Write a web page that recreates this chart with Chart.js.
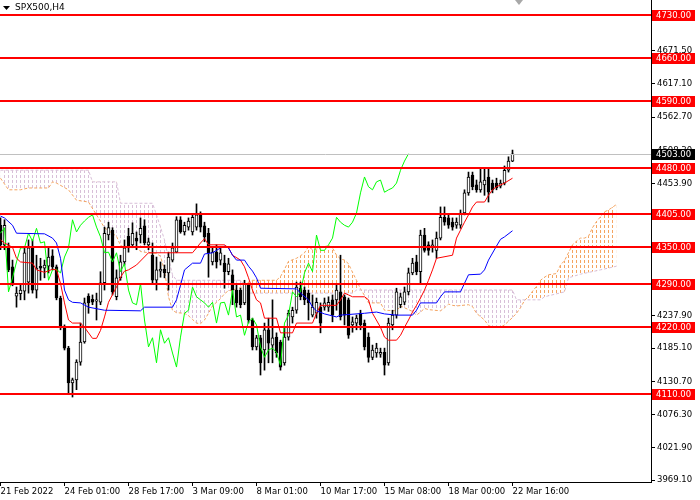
<!DOCTYPE html>
<html>
<head>
<meta charset="utf-8">
<script src="https://cdn.jsdelivr.net/npm/chart.js@4"></script>
<style>
  html, body { margin: 0; padding: 0; background: #fff; }
</style>
</head>
<body>
<canvas id="chart" width="700" height="500"></canvas>
<script>
const symbol = "SPX500,H4";
const xLabels = ["21 Feb 2022", "24 Feb 01:00", "28 Feb 17:00", "3 Mar 09:00", "8 Mar 01:00",
  "10 Mar 17:00", "15 Mar 08:00", "18 Mar 00:00", "22 Mar 16:00"];
const xLabelBars = [0, 16, 32, 48, 64, 80, 96, 112, 128];
const yTicks = [4725.9, 4671.5, 4617.1, 4562.7, 4508.3, 4453.9, 4399.5, 4345.1, 4290.7,
  4237.9, 4185.1, 4130.7, 4076.3, 4021.9, 3969.1];
const levels = [4730, 4660, 4590, 4480, 4405, 4350, 4290, 4220, 4110];
const lastPrice = 4503;

// H4 candles, one per bar
const open = [4386,4354,4349,4318,4270,4274,4278,4293,4350,4280,
  4319,4316,4319,4336,4318,4267,4220,4185,4128,4133,
  4162,4195,4270,4265,4262,4260,4292,4370,4378,4269,
  4300,4326,4368,4354,4365,4370,4385,4354,4337,4296,
  4311,4314,4308,4329,4342,4395,4375,4383,4375,4383,
  4403,4385,4373,4326,4342,4329,4324,4310,4305,4280,
  4280,4259,4288,4231,4187,4202,4182,4215,4190,4203,
  4195,4161,4203,4236,4247,4283,4280,4275,4239,4242,
  4252,4252,4252,4264,4264,4277,4269,4264,4223,4226,
  4242,4226,4203,4170,4177,4175,4178,4161,4223,4239,
  4256,4260,4277,4308,4326,4310,4370,4354,4350,4345,
  4365,4399,4398,4391,4386,4386,4406,4439,4468,4452,
  4444,4452,4465,4455,4455,4450,4455,4476,4491];
const close = [4354,4386,4313,4292,4275,4280,4341,4349,4280,4316,
  4316,4321,4334,4318,4267,4220,4185,4128,4133,4162,
  4195,4259,4259,4260,4264,4292,4373,4382,4277,4300,
  4326,4349,4349,4373,4360,4381,4357,4359,4296,4313,
  4314,4308,4334,4349,4395,4375,4386,4393,4399,4403,
  4383,4367,4341,4342,4326,4341,4310,4323,4280,4259,
  4256,4291,4231,4187,4202,4161,4215,4193,4202,4177,
  4154,4203,4242,4247,4285,4269,4264,4259,4252,4260,
  4226,4259,4260,4239,4280,4236,4239,4206,4228,4234,
  4223,4187,4170,4182,4185,4178,4157,4226,4239,4277,
  4269,4277,4308,4324,4310,4370,4345,4345,4354,4365,
  4399,4391,4386,4383,4391,4406,4439,4465,4449,4444,
  4457,4460,4440,4444,4447,4455,4476,4491,4503];
const high = [4398,4395,4357,4329,4285,4288,4350,4362,4362,4337,
  4332,4329,4349,4346,4321,4270,4223,4188,4136,4166,
  4226,4267,4274,4272,4275,4310,4383,4391,4382,4313,
  4337,4362,4381,4390,4375,4398,4395,4365,4357,4334,
  4326,4321,4342,4357,4400,4400,4391,4398,4405,4421,
  4408,4391,4381,4349,4354,4349,4337,4332,4313,4288,
  4283,4296,4291,4234,4206,4206,4226,4234,4264,4210,
  4198,4219,4247,4252,4293,4293,4285,4280,4272,4267,
  4259,4267,4269,4272,4288,4337,4272,4267,4236,4239,
  4247,4231,4210,4190,4193,4185,4185,4234,4247,4283,
  4275,4285,4316,4332,4337,4378,4381,4359,4362,4375,
  4416,4416,4403,4398,4398,4411,4444,4473,4473,4460,
  4480,4480,4480,4460,4463,4460,4483,4498,4509];
const low = [4346,4346,4310,4287,4252,4264,4264,4275,4275,4267,
  4296,4300,4308,4313,4264,4215,4182,4112,4105,4117,
  4157,4193,4242,4256,4231,4256,4280,4362,4272,4264,
  4296,4321,4342,4350,4346,4357,4354,4346,4291,4280,
  4301,4300,4280,4326,4341,4373,4370,4378,4370,4378,
  4375,4359,4301,4321,4316,4321,4283,4305,4256,4252,
  4251,4256,4226,4182,4182,4141,4149,4161,4161,4170,
  4149,4157,4198,4226,4242,4264,4256,4231,4236,4234,
  4210,4247,4245,4228,4247,4231,4223,4201,4211,4215,
  4215,4182,4162,4166,4170,4170,4141,4157,4215,4234,
  4251,4256,4272,4305,4305,4291,4342,4337,4342,4332,
  4362,4386,4381,4378,4381,4381,4403,4435,4444,4440,
  4440,4435,4424,4439,4444,4447,4452,4473,4490];

// Ichimoku lines, read at the bars where they turn
const tenkanBar = [0,1,3,4,5,8,9,11,13,14,15,16,17,18,20,21,23,24,25,26,27,29,30,31,32,34,37,48,49,50,
  51,52,56,57,58,60,61,62,63,64,65,66,69,70,73,74,78,79,80,84,85,86,87,88,91,92,93,95,96,97,
  99,100,101,102,103,104,105,106,107,108,109,113,114,115,116,117,118,119,121,122,123,124,126,128];
const tenkanVal = [4362,4357,4350,4332,4326,4324,4313,4309,4314,4313,4291,4259,4231,4226,4226,4219,4201,4201,4214,4236,
  4260,4285,4301,4311,4313,4321,4341,4341,4349,4357,4364,4354,4354,4349,4337,4329,4318,4300,4280,4264,
  4259,4234,4234,4210,4210,4226,4226,4242,4255,4255,4264,4275,4272,4269,4269,4264,4242,4219,4203,4198,
  4198,4206,4219,4231,4244,4255,4267,4280,4296,4313,4332,4337,4365,4378,4391,4403,4416,4424,4424,4435,
  4444,4449,4455,4463];
const kijunBar = [0,1,3,4,11,13,14,15,16,17,18,20,22,26,35,36,43,44,45,46,48,50,51,53,55,56,57,58,59,61,
  62,63,64,65,74,75,77,78,79,81,84,85,91,94,96,99,103,104,105,109,110,111,115,116,117,120,121,122,124,125,
  126,128];
const kijunVal = [4401,4398,4386,4373,4372,4365,4357,4332,4280,4264,4260,4259,4252,4247,4246,4252,4252,4264,4288,4313,
  4324,4324,4339,4341,4349,4352,4349,4337,4329,4329,4319,4311,4300,4283,4282,4275,4264,4252,4246,4241,
  4236,4239,4242,4244,4241,4239,4239,4247,4259,4259,4269,4277,4277,4291,4305,4306,4313,4329,4352,4363,
  4367,4377];
const spanABar = [0,2,5,7,12,13,14,17,19,22,24,26,29,30,31,34,35,37,39,40,41,42,43,44,46,47,48,49,50,51,
  52,53,55,56,57,58,60,61,62,63,69,70,71,72,74,75,76,77,78,79,81,82,83,84,85,86,87,88,89,90,
  91,92,95,96,99,100,101,103,104,105,106,107,110,111,112,113,114,117,118,119,121,122,123,125,126,127,128,129,130,131,
  132,133,134,135,136,137,139,140,141,142,143,144,145,146,147,148,149,150,151,152,154];
const spanAVal = [4463,4444,4444,4447,4447,4457,4455,4444,4427,4424,4403,4382,4368,4353,4350,4349,4343,4341,4340,4335,
  4312,4269,4247,4243,4242,4238,4232,4226,4225,4231,4242,4254,4266,4274,4279,4280,4284,4287,4293,4296,
  4296,4302,4314,4327,4332,4336,4341,4351,4346,4347,4351,4353,4349,4337,4331,4329,4323,4309,4296,4282,
  4271,4259,4259,4247,4246,4254,4251,4245,4239,4244,4250,4248,4246,4251,4257,4255,4254,4256,4253,4242,
  4231,4222,4220,4219,4223,4229,4235,4242,4251,4263,4269,4278,4286,4296,4301,4305,4307,4321,4328,4341,
  4354,4360,4365,4365,4368,4382,4392,4400,4408,4411,4420];
const spanBBar = [0,22,23,29,30,38,39,40,41,42,43,44,60,61,62,88,89,128,129,135,136,141,142,145,150,154];
const spanBVal = [4476,4476,4457,4457,4422,4422,4403,4383,4362,4332,4305,4296,4296,4288,4275,4275,4280,4280,4264,4264,
  4269,4277,4300,4306,4313,4319];
const chikouShift = 26;

const canvas = document.getElementById("chart");
const ctx = canvas.getContext("2d");

// dotted cloud fill: one short vertical dash per bar column
function cloudPattern(color) {
  const c = document.createElement("canvas");
  c.width = 4;
  c.height = 5;
  const g = c.getContext("2d");
  g.fillStyle = color;
  g.fillRect(0, 0, 1, 3);
  return ctx.createPattern(c, "repeat");
}

const pts = (bars, vals) => bars.map((b, i) => ({ x: b, y: vals[i] }));
const idx = close.map((_, i) => i);
const font = { family: "DejaVu Sans", size: 8.5 };

const overlay = {
  id: "overlay",
  afterDatasetsDraw(chart) {
    const { ctx, chartArea: a, scales: { y } } = chart;
    ctx.save();
    const py = Math.round(y.getPixelForValue(lastPrice)) + 0.5;
    ctx.strokeStyle = "#c0c0c0";
    ctx.lineWidth = 1;
    ctx.beginPath();
    ctx.moveTo(a.left, py);
    ctx.lineTo(a.right, py);
    ctx.stroke();
    ctx.strokeStyle = "#ff0000";
    ctx.lineWidth = 2;
    levels.forEach(v => {
      const ly = Math.round(y.getPixelForValue(v));
      ctx.beginPath();
      ctx.moveTo(a.left, ly);
      ctx.lineTo(a.right, ly);
      ctx.stroke();
    });
    ctx.restore();
  },
  afterDraw(chart) {
    const { ctx, chartArea: a, scales: { x, y } } = chart;
    ctx.save();
    ctx.font = "8.5px 'DejaVu Sans'";
    ctx.textBaseline = "middle";
    ctx.textAlign = "left";
    const box = (v, bg) => {
      const by = Math.round(y.getPixelForValue(v));
      ctx.fillStyle = bg;
      ctx.fillRect(a.right + 1, by - 5, 43, 11);
      ctx.fillStyle = "#fff";
      ctx.fillText(v.toFixed(2), a.right + 5, by + 0.5);
    };
    levels.forEach(v => box(v, "#ff0000"));
    box(lastPrice, "#000");

    // chart shift marker
    const sx = Math.round(x.getPixelForValue(close.length + 0.5));
    ctx.fillStyle = "#a8a8a8";
    ctx.beginPath();
    ctx.moveTo(sx - 4, 0);
    ctx.lineTo(sx + 4, 0);
    ctx.lineTo(sx, 5);
    ctx.closePath();
    ctx.fill();

    // symbol caption
    ctx.fillStyle = "#000";
    ctx.beginPath();
    ctx.moveTo(3, 6);
    ctx.lineTo(10, 6);
    ctx.lineTo(6.5, 10);
    ctx.closePath();
    ctx.fill();
    ctx.font = "9px 'DejaVu Sans'";
    ctx.fillText(symbol, 15, 8);
    ctx.restore();
  }
};

new Chart(canvas, {
  type: "bar",
  data: {
    datasets: [
      {
        type: "line", label: "Senkou A", data: pts(spanABar, spanAVal),
        borderColor: "#f4a460", borderWidth: 1, borderDash: [3, 2], pointRadius: 0,
        fill: { target: "+1", above: cloudPattern("#f4a460"), below: cloudPattern("#d8bfd8") },
        order: 5
      },
      {
        type: "line", label: "Senkou B", data: pts(spanBBar, spanBVal),
        borderColor: "#d8bfd8", borderWidth: 1, borderDash: [3, 2], pointRadius: 0,
        fill: false, order: 4
      },
      {
        type: "bar", label: "Wick", data: idx.map(i => ({ x: i, y: [low[i], high[i]] })),
        backgroundColor: "#000", barThickness: 1, grouped: false, order: 3
      },
      {
        type: "bar", label: "Body", data: idx.map(i => ({ x: i, y: [open[i], close[i]] })),
        backgroundColor: c => close[c.dataIndex] > open[c.dataIndex] ? "#fff" : "#000",
        borderColor: "#000", borderWidth: 1, borderSkipped: false,
        barThickness: 3, minBarLength: 1, grouped: false, order: 2
      },
      {
        type: "line", label: "Kijun", data: pts(kijunBar, kijunVal),
        borderColor: "#0000ff", borderWidth: 1, pointRadius: 0, fill: false, order: 1
      },
      {
        type: "line", label: "Tenkan", data: pts(tenkanBar, tenkanVal),
        borderColor: "#ff0000", borderWidth: 1, pointRadius: 0, fill: false, order: 1
      },
      {
        type: "line", label: "Chikou", data: close.slice(chikouShift).map((v, i) => ({ x: i, y: v })),
        borderColor: "#00ff00", borderWidth: 1, pointRadius: 0, fill: false, order: 1
      }
    ]
  },
  options: {
    responsive: false,
    animation: false,
    events: [],
    layout: { padding: 0 },
    plugins: { legend: { display: false }, tooltip: { enabled: false } },
    scales: {
      x: {
        type: "linear", min: -0.125, max: 162.625, offset: false,
        afterBuildTicks: s => { s.ticks = xLabelBars.map(v => ({ value: v })); },
        afterFit: s => { s.height = 18; s.paddingLeft = 0; s.paddingRight = 0; },
        ticks: {
          callback: (v, i) => xLabels[i], align: "start", maxRotation: 0, minRotation: 0,
          autoSkip: false, padding: 1, color: "#000", font: font
        },
        grid: { drawOnChartArea: false, offset: false, tickLength: 4, color: "#000" },
        border: { color: "#000", width: 1 }
      },
      y: {
        type: "linear", position: "right", min: 3966, max: 4754.5,
        afterBuildTicks: s => { s.ticks = yTicks.map(v => ({ value: v })); },
        afterFit: s => { s.width = 49; s.paddingTop = 0; s.paddingBottom = 0; },
        ticks: { callback: v => v.toFixed(2), autoSkip: false, padding: 2, color: "#000", font: font },
        grid: { drawOnChartArea: false, tickLength: 4, color: "#000" },
        border: { color: "#000", width: 1 }
      }
    }
  },
  plugins: [overlay]
});
</script>
</body>
</html>
